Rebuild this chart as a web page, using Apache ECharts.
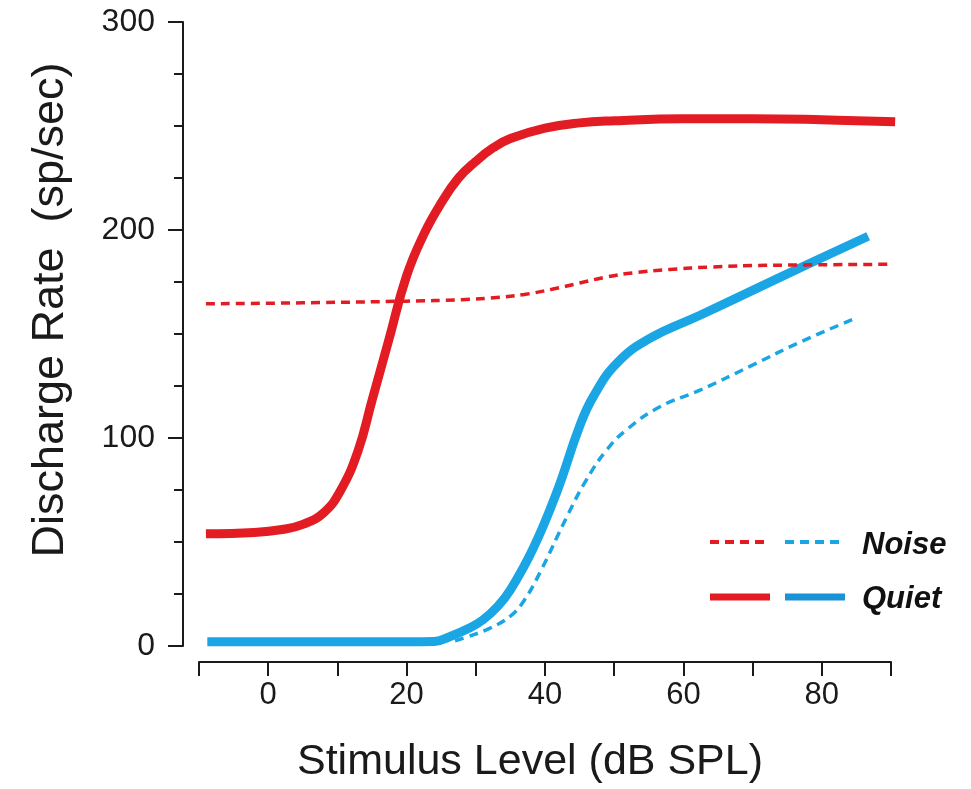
<!DOCTYPE html>
<html>
<head>
<meta charset="utf-8">
<script src="https://cdn.jsdelivr.net/npm/echarts@6/dist/echarts.min.js"></script>
<style>
  html, body { margin: 0; padding: 0; background: #fff; }
  #chart { width: 971px; height: 789px; }
</style>
</head>
<body>
<div id="chart"></div>
<script>
// Stimulus level (dB SPL) vs discharge rate (sp/sec)
const quietRed = [[-9, 54], [-2, 54.6], [2, 56], [5, 58.5], [8, 64], [10.5, 75], [13, 94], [15, 118],
  [17.5, 148], [20, 178], [22.5, 198], [25, 213], [27.5, 225], [30, 233], [32.5, 239.5], [35, 244],
  [40, 249], [45, 251.5], [50, 252.5], [60, 253.5], [70, 253.5], [80, 253], [90.6, 252]];
const noiseRed = [[-9, 164.5], [5, 165], [20, 165.8], [28, 166.5], [33, 167.5], [37, 169], [41, 171.5],
  [45, 174.5], [49, 177.5], [53, 179.5], [58, 181], [64, 182.2], [72, 183], [90, 183.5]];
const quietBlue = [[-8.8, 2], [0, 2], [10, 2], [20, 2], [24, 2.2], [26.3, 4.6], [29, 8.5], [31, 12.5], [33, 18.5],
  [35, 27], [38.3, 47], [41.7, 74], [45, 105.6], [47, 120], [50.4, 136], [55.2, 148], [62.4, 159],
  [70, 171], [77.9, 183.4], [86.7, 197]];
const noiseBlue = [[27, 2.5], [28.7, 4.3], [32, 8.5], [35, 14.4], [37, 22], [39.3, 35.5], [43.2, 62.4], [46, 80],
  [49, 94.6], [51.8, 104], [56.6, 115], [62.4, 123], [69.6, 134.4], [76.8, 146], [85.2, 158]];
const xTickLabels = [0, 20, 40, 60, 80];
const legendLabels = ['Noise', 'Quiet'];

const RED = '#e31b23';
const BLUE = '#1aa6e4';
const INK = '#1a1a1a';
const FONT = 'Liberation Sans, Arial, Helvetica, sans-serif';

const chart = echarts.init(document.getElementById('chart'), null, { renderer: 'canvas' });

function lineSeries(data, color, dashed) {
  return {
    type: 'line',
    data: data,
    smooth: 0.45,
    showSymbol: false,
    symbol: 'none',
    silent: true,
    lineStyle: dashed
      ? { color: color, width: 3.5, type: [9, 6] }
      : { color: color, width: 9 }
  };
}

// legend swatches drawn as simple graphic lines
function swatch(x1, x2, y, color, dashed) {
  return {
    type: 'line',
    shape: { x1: x1, y1: y, x2: x2, y2: y },
    style: dashed
      ? { stroke: color, lineWidth: 4, lineDash: [9, 6] }
      : { stroke: color, lineWidth: 7 }
  };
}

chart.setOption({
  animation: false,
  backgroundColor: '#fff',
  grid: { left: 199, right: 80, top: 22, bottom: 142, containLabel: false },
  xAxis: {
    type: 'value',
    min: -10, max: 90, interval: 10,
    offset: 16,
    name: 'Stimulus Level (dB SPL)',
    nameLocation: 'middle',
    nameGap: 79,
    nameTextStyle: { fontFamily: FONT, fontSize: 43, color: INK, padding: [0, 30, 0, 0] },
    axisLine: { show: true, onZero: false, lineStyle: { color: INK, width: 2 } },
    axisTick: { show: true, inside: false, length: 14, lineStyle: { color: INK, width: 2 } },
    axisLabel: {
      margin: 18,
      fontFamily: FONT, fontSize: 31, color: INK,
      formatter: v => (xTickLabels.indexOf(v) >= 0 ? String(v) : '')
    },
    splitLine: { show: false }
  },
  yAxis: {
    type: 'value',
    min: 0, max: 300, interval: 100,
    offset: 16,
    name: 'Discharge Rate  (sp/sec)',
    nameLocation: 'middle',
    nameGap: 110,
    nameTextStyle: { fontFamily: FONT, fontSize: 45, color: INK, padding: [0, 0, 0, 48] },
    axisLine: { show: true, onZero: false, lineStyle: { color: INK, width: 2 } },
    axisTick: { show: true, inside: false, length: 15, lineStyle: { color: INK, width: 2 } },
    minorTick: { show: true, splitNumber: 4, length: 9, lineStyle: { color: INK, width: 2 } },
    axisLabel: { margin: 28, fontFamily: FONT, fontSize: 32, color: INK },
    splitLine: { show: false },
    minorSplitLine: { show: false }
  },
  series: [
    lineSeries(quietBlue, BLUE, false),
    lineSeries(noiseBlue, BLUE, true),
    lineSeries(quietRed, RED, false),
    lineSeries(noiseRed, RED, true)
  ],
  graphic: [
    swatch(710, 765, 542, RED, true),
    swatch(785, 841, 542, BLUE, true),
    swatch(710, 770, 597, RED, false),
    swatch(785, 845, 597, '#1992d6', false),
    {
      type: 'text', left: 862, top: 530,
      style: { text: legendLabels[0], font: 'italic bold 31px ' + FONT, fill: '#111' }
    },
    {
      type: 'text', left: 862, top: 584,
      style: { text: legendLabels[1], font: 'italic bold 31px ' + FONT, fill: '#111' }
    }
  ]
});
</script>
</body>
</html>
